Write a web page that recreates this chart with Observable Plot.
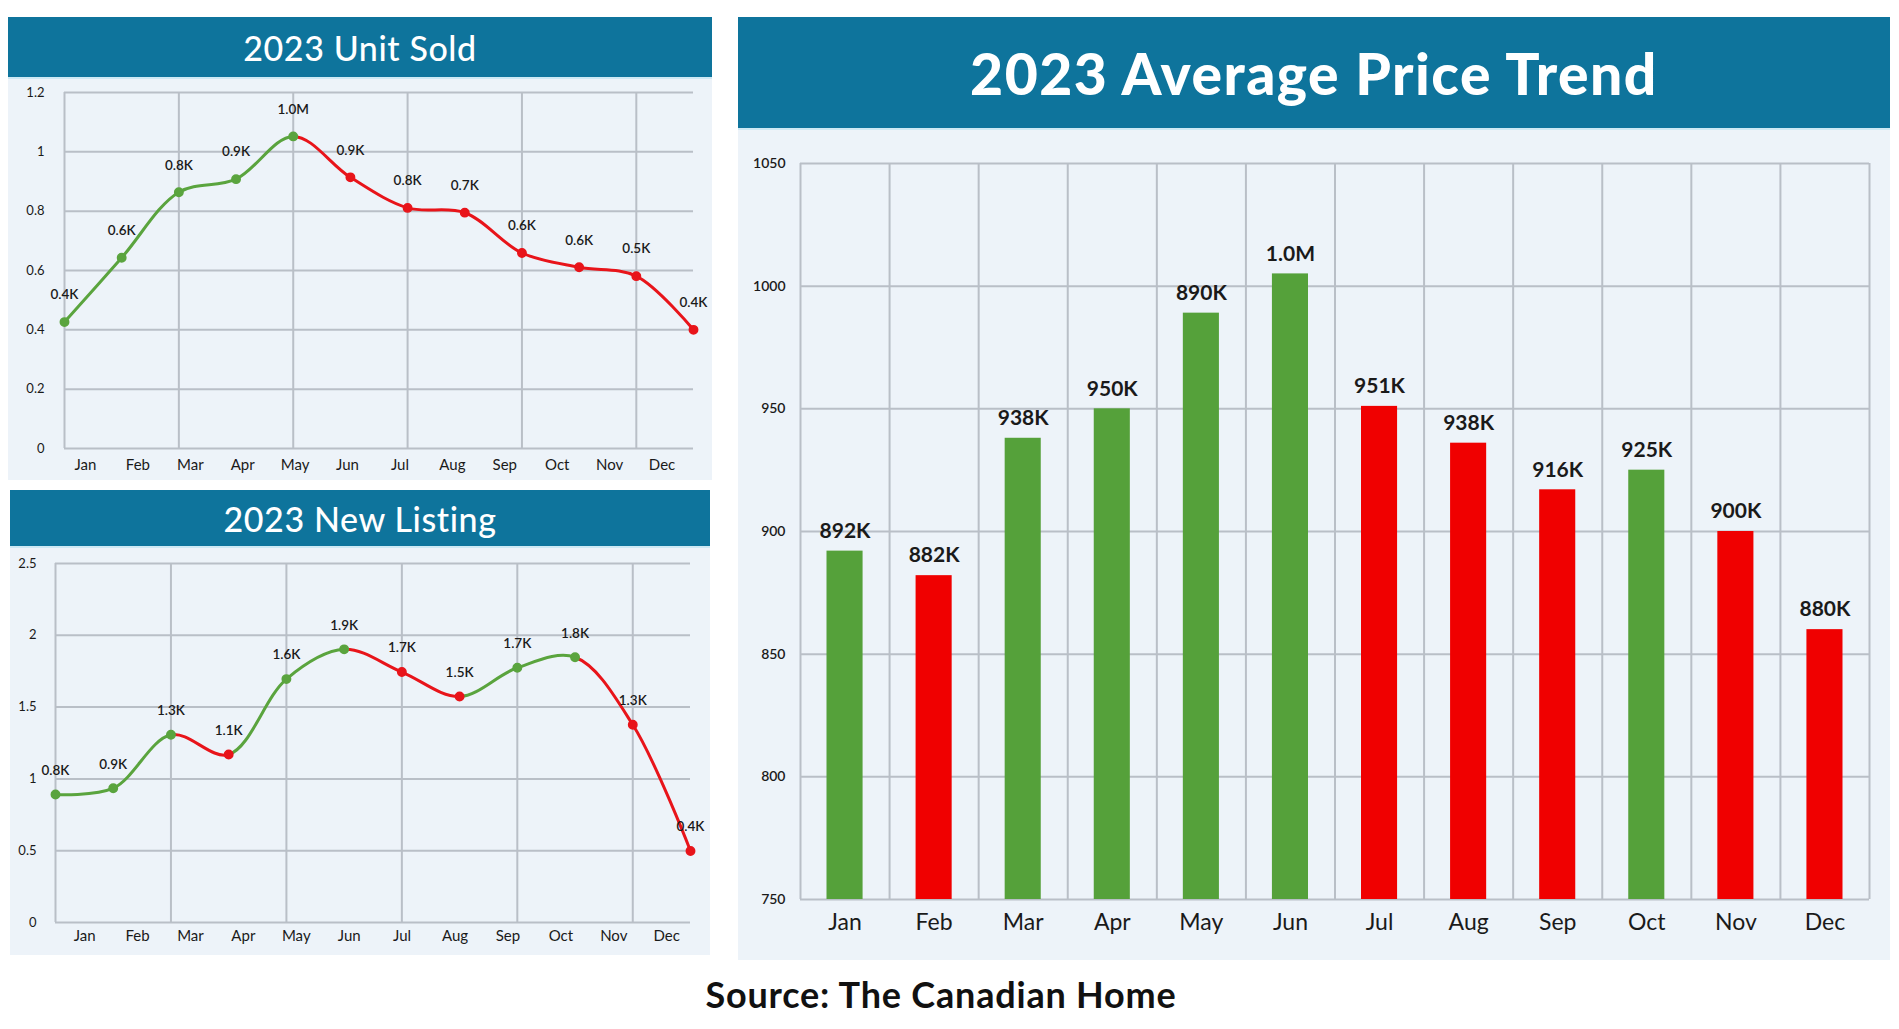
<!DOCTYPE html>
<html>
<head>
<meta charset="utf-8">
<script src="https://cdn.jsdelivr.net/npm/d3@7"></script>
<script src="https://cdn.jsdelivr.net/npm/@observablehq/plot@0.6"></script>
<style>
html, body { margin: 0; padding: 0; background: #ffffff; }
body { width: 1899px; height: 1029px; position: relative; overflow: hidden; font-family: Lato, "Open Sans", sans-serif; }
.panel { position: absolute; background: #edf3f9; }
.hdr { position: absolute; left: 0; top: 0; background: #0e749c; color: #ffffff; display: flex; align-items: center; justify-content: center; border-bottom: 2px solid #cde9f4; box-sizing: border-box; }
.chart { position: absolute; left: 0; }
.chart svg { display: block; }
#source { position: absolute; left: 560px; width: 762px; top: 972px; text-align: center; font-size: 36px; letter-spacing: 0.8px; font-weight: 700; color: #111; }
</style>
</head>
<body>
<div class="panel" style="left:8px;top:17px;width:704px;height:463px">
  <div class="hdr" style="width:704px;height:62px;font-size:34px;letter-spacing:0.6px;font-weight:500">2023 Unit Sold</div>
  <div class="chart" id="c1" style="top:62px"></div>
</div>
<div class="panel" style="left:10px;top:490px;width:700px;height:465px">
  <div class="hdr" style="width:700px;height:58px;font-size:34px;letter-spacing:0.6px;font-weight:500">2023 New Listing</div>
  <div class="chart" id="c2" style="top:58px"></div>
</div>
<div class="panel" style="left:738px;top:17px;width:1152px;height:943px">
  <div class="hdr" style="width:1152px;height:113px;font-size:57px;letter-spacing:1.5px;font-weight:900">2023 Average Price Trend</div>
  <div class="chart" id="c3" style="top:113px"></div>
</div>
<div id="source">Source: The Canadian Home</div>

<script>
// ---------- data ----------
const months = ["Jan","Feb","Mar","Apr","May","Jun","Jul","Aug","Sep","Oct","Nov","Dec"];

const unitSoldValues = [0.426, 0.643, 0.864, 0.908, 1.052, 0.914, 0.811, 0.795, 0.659, 0.611, 0.581, 0.400];
const unitSoldLabels = ["0.4K","0.6K","0.8K","0.9K","1.0M","0.9K","0.8K","0.7K","0.6K","0.6K","0.5K","0.4K"];
const unitSoldTicks = [0, 0.2, 0.4, 0.6, 0.8, 1, 1.2];

const newListingValues = [0.891, 0.935, 1.307, 1.170, 1.695, 1.902, 1.744, 1.574, 1.774, 1.847, 1.377, 0.498];
const newListingLabels = ["0.8K","0.9K","1.3K","1.1K","1.6K","1.9K","1.7K","1.5K","1.7K","1.8K","1.3K","0.4K"];
const newListingTicks = [0, 0.5, 1, 1.5, 2, 2.5];

const priceValues = [892, 882, 938, 950, 989, 1005, 951, 936, 917, 925, 900, 860];
const priceLabels = ["892K","882K","938K","950K","890K","1.0M","951K","938K","916K","925K","900K","880K"];
const priceTicks = [750, 800, 850, 900, 950, 1000, 1050];

// ---------- styles ----------
const GREEN = "#55a13a";
const RED = "#f00000";
const LINE_GREEN = "#5aa43e";
const LINE_RED = "#e8141a";
const GRID = "#b9bfc7";
const TEXT = "#1a1a1a";
const FONT = "Lato, 'Open Sans', sans-serif";

function lineChart({el, id, values, labels, ticks, yMax, width, height, margins, monthShift, monthDy, labelDy, tickPadding}) {
  const n = values.length;
  const up = (k) => values[k + 1] >= values[k];
  const data = values.map((v, i) => ({
    i, v, label: labels[i],
    dotColor: (i === 0 ? up(0) : v >= values[i - 1]) ? LINE_GREEN : LINE_RED
  }));
  const monthRows = months.map((m, i) => ({m, pos: (i + monthShift) * (n - 1) / 12}));
  const gid = id + "-grad";
  const plot = Plot.plot({
    width, height, ...margins,
    style: {background: "transparent", fontFamily: FONT, color: TEXT, overflow: "visible"},
    x: {domain: [0, n - 1], axis: null},
    y: {domain: [0, yMax], axis: null},
    color: {type: "identity"},
    marks: [
      Plot.ruleY(ticks, {stroke: GRID, strokeWidth: 2}),
      Plot.ruleX([0, 2, 4, 6, 8, 10], {stroke: GRID, strokeWidth: 2}),
      Plot.axisY(ticks, {label: null, tickSize: 0, tickPadding, fontSize: 13, tickFormat: d => String(d)}),
      Plot.text(monthRows, {x: "pos", text: "m", frameAnchor: "bottom", dy: monthDy, fontSize: 15, fill: TEXT}),
      Plot.line(data, {x: "i", y: "v", curve: "catmull-rom", stroke: `url(#${gid})`, strokeWidth: 3}),
      Plot.dot(data, {x: "i", y: "v", r: 4.2, fill: "dotColor", stroke: "dotColor"}),
      Plot.text(data, {x: "i", y: "v", text: "label", dy: labelDy, fontSize: 13.5, fontWeight: 600, fill: TEXT})
    ]
  });
  const xs = plot.scale("x");
  const svg = d3.select(plot);
  const grad = svg.insert("defs", ":first-child").append("linearGradient")
    .attr("id", gid).attr("gradientUnits", "userSpaceOnUse")
    .attr("x1", xs.apply(0)).attr("x2", xs.apply(n - 1)).attr("y1", 0).attr("y2", 0);
  for (let k = 0; k < n - 1; ++k) {
    const c = up(k) ? LINE_GREEN : LINE_RED;
    grad.append("stop").attr("offset", k / (n - 1)).attr("stop-color", c);
    grad.append("stop").attr("offset", (k + 1) / (n - 1)).attr("stop-color", c);
  }
  document.getElementById(el).append(plot);
}

lineChart({
  el: "c1", id: "unit", values: unitSoldValues, labels: unitSoldLabels, ticks: unitSoldTicks, yMax: 1.2,
  width: 704, height: 401,
  margins: {marginLeft: 56, marginRight: 19, marginTop: 13, marginBottom: 32},
  monthShift: 0.4, monthDy: 21, labelDy: -27, tickPadding: 20
});

lineChart({
  el: "c2", id: "listing", values: newListingValues, labels: newListingLabels, ticks: newListingTicks, yMax: 2.5,
  width: 700, height: 407,
  margins: {marginLeft: 45, marginRight: 20, marginTop: 15, marginBottom: 33},
  monthShift: 0.55, monthDy: 18, labelDy: -24, tickPadding: 19
});

// ---------- bar chart ----------
const priceRows = priceValues.map((v, i) => ({
  i, v, label: priceLabels[i], month: months[i],
  color: (i === 0 || v >= priceValues[i - 1]) ? GREEN : RED
}));

const bar = Plot.plot({
  width: 1152, height: 830,
  marginLeft: 62, marginRight: 21, marginTop: 33, marginBottom: 61,
  style: {background: "transparent", fontFamily: FONT, color: TEXT, overflow: "visible"},
  x: {domain: [0, 12], axis: null},
  y: {domain: [750, 1050], axis: null},
  color: {type: "identity"},
  marks: [
    Plot.ruleY(priceTicks, {stroke: GRID, strokeWidth: 2}),
    Plot.ruleX(d3.range(13), {stroke: GRID, strokeWidth: 2}),
    Plot.rect(priceRows, {x1: "i", x2: d => d.i + 1, y1: 750, y2: "v", fill: "color", insetLeft: 26.5, insetRight: 26.5}),
    Plot.text(priceRows, {x: d => d.i + 0.5, y: "v", text: "label", dy: -20, fontSize: 21, fontWeight: 700, fill: TEXT}),
    Plot.text(priceRows, {x: d => d.i + 0.5, text: "month", frameAnchor: "bottom", dy: 30, fontSize: 23, fill: TEXT}),
    Plot.axisY(priceTicks, {label: null, tickSize: 0, tickPadding: 15, tickFormat: d3.format("d"), fontSize: 14, fontWeight: 600})
  ]
});
document.getElementById("c3").append(bar);
</script>
</body>
</html>
